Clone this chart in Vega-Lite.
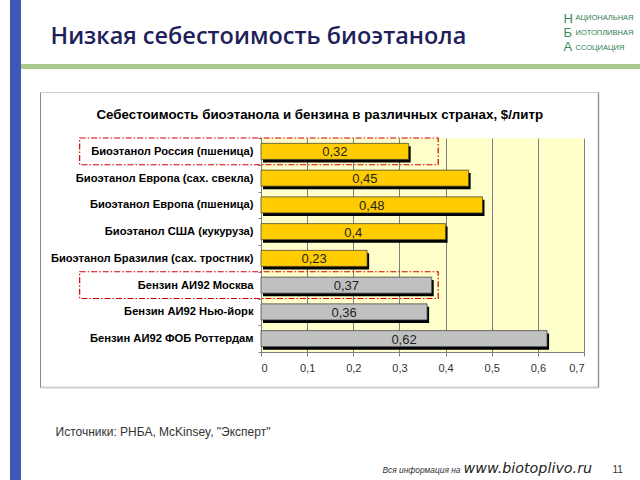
{
  "$schema": "https://vega.github.io/schema/vega-lite/v6.json",
  "background": "white",
  "padding": {"left": 10, "top": 0, "right": 0, "bottom": 0},
  "config": {
    "view": {"stroke": null},
    "font": "Liberation Sans",
    "locale": {"number": {"decimal": ",", "thousands": " ", "grouping": [3], "currency": ["", " ₽"]}}
  },
  "spacing": 0,
  "bounds": "flush",
  "hconcat": [
    {
      "width": 11,
      "height": 480,
      "data": {"values": []},
      "mark": "rule",
      "encoding": {},
      "view": {"fill": "#3f58b8", "stroke": null}
    },
    {
      "spacing": 0,
      "bounds": "flush",
      "vconcat": [
        {
          "width": 619,
          "height": 64,
          "data": {"values": []},
          "mark": "rule",
          "encoding": {
            "x": {
              "field": "v",
              "type": "quantitative",
              "scale": {"domain": [0, 1]},
              "axis": {
                "domain": false, "ticks": false, "labels": false, "grid": false,
                "title": "Низкая себестоимость биоэтанола",
                "titleX": 29, "titleY": -21,
                "titleAlign": "left", "titleAnchor": "start", "titleBaseline": "alphabetic",
                "titleFont": "Open Sans", "titleFontSize": 23.5, "titleFontWeight": 600,
                "titleColor": "#1f1f5c"
              }
            }
          }
        },
        {
          "width": 619,
          "height": 5,
          "data": {"values": []},
          "mark": "rule",
          "view": {"fill": "#a9cb8e", "stroke": null},
          "encoding": {
            "x": {
              "field": "v",
              "type": "quantitative",
              "scale": {"domain": [0, 1]},
              "axis": {
                "domain": false, "ticks": false, "labels": false, "grid": false,
                "title": ["АЦИОНАЛЬНАЯ", "ИОТОПЛИВНАЯ", "ССОЦИАЦИЯ"],
                "titleX": 554, "titleY": -49.7,
                "titleAlign": "left", "titleAnchor": "start", "titleBaseline": "alphabetic",
                "titleLineHeight": 15.3,
                "titleFont": "Liberation Sans", "titleFontSize": 7.5, "titleFontWeight": "normal",
                "titleColor": "#2f7d50"
              }
            }
          }
        },
        {
          "width": 619,
          "height": 69,
          "data": {"values": []},
          "mark": "rule",
          "encoding": {
            "x": {
              "field": "v",
              "type": "quantitative",
              "scale": {"domain": [0, 1]},
              "axis": {
                "domain": false, "ticks": false, "labels": false, "grid": false,
                "title": ["Н", "Б", "А"],
                "titleX": 542, "titleY": -116,
                "titleAlign": "left", "titleAnchor": "start", "titleBaseline": "alphabetic",
                "titleLineHeight": 14,
                "titleFont": "Liberation Sans", "titleFontSize": 13, "titleFontWeight": "normal",
                "titleColor": "#3a8a58"
              }
            }
          }
        },
        {
          "spacing": 0,
          "bounds": "flush",
          "hconcat": [
            {
              "width": 240,
              "height": 214,
              "data": {"values": []},
              "mark": "rule",
              "encoding": {}
            },
            {
              "width": 323,
              "height": 214,
              "data": {
                "values": [
                  {"label": "Биоэтанол Россия (пшеница)", "value": 0.32, "kind": "Биоэтанол"},
                  {"label": "Биоэтанол Европа (сах. свекла)", "value": 0.45, "kind": "Биоэтанол"},
                  {"label": "Биоэтанол Европа (пшеница)", "value": 0.48, "kind": "Биоэтанол"},
                  {"label": "Биоэтанол США (кукуруза)", "value": 0.4, "kind": "Биоэтанол"},
                  {"label": "Биоэтанол Бразилия (сах. тростник)", "value": 0.23, "kind": "Биоэтанол"},
                  {"label": "Бензин АИ92 Москва", "value": 0.37, "kind": "Бензин"},
                  {"label": "Бензин АИ92 Нью-йорк", "value": 0.36, "kind": "Бензин"},
                  {"label": "Бензин АИ92 ФОБ Роттердам", "value": 0.62, "kind": "Бензин"}
                ]
              },
              "view": {"fill": "#ffffcc", "stroke": null},
              "encoding": {
                "y": {
                  "field": "label",
                  "type": "nominal",
                  "sort": null,
                  "scale": {"paddingInner": 0, "paddingOuter": 0},
                  "axis": {
                    "tickBand": "extent",
                    "labelFont": "Liberation Sans",
                    "labelFontSize": 11.2,
                    "labelFontWeight": "bold",
                    "labelColor": "#000000",
                    "labelPadding": 5,
                    "labelLimit": 400,
                    "tickSize": 3,
                    "tickColor": "#808080",
                    "domainColor": "#808080",
                    "title": "Себестоимость биоэтанола и бензина в различных странах, $/литр",
                    "titleAngle": 0,
                    "titleX": -165, "titleY": -20,
                    "titleAlign": "left", "titleAnchor": "start", "titleBaseline": "alphabetic",
                    "titleFont": "Liberation Sans", "titleFontSize": 13.3, "titleFontWeight": "bold",
                    "titleColor": "#000000"
                  }
                }
              },
              "layer": [
                {
                  "mark": {"type": "bar", "fill": "#000000", "xOffset": 2, "yOffset": 3, "height": {"band": 0.6}},
                  "encoding": {
                    "x": {
                      "field": "value",
                      "type": "quantitative",
                      "scale": {"domain": [0, 0.7], "nice": false},
                      "axis": {
                        "values": [0, 0.1, 0.2, 0.3, 0.4, 0.5, 0.6, 0.7],
                        "format": "~g",
                        "grid": true,
                        "gridColor": "#808080",
                        "gridWidth": 1,
                        "domainColor": "#808080",
                        "tickColor": "#808080",
                        "tickSize": 4,
                        "labelFont": "Liberation Sans",
                        "labelFontSize": 11,
                        "labelColor": "#333333",
                        "labelPadding": 6,
                        "title": "Источники: РНБА, McKinsey, \"Эксперт\"",
                        "titleX": -206, "titleY": 83,
                        "titleAlign": "left", "titleAnchor": "start", "titleBaseline": "alphabetic",
                        "titleFont": "Liberation Sans", "titleFontSize": 12, "titleFontWeight": "normal",
                        "titleColor": "#333333"
                      }
                    }
                  }
                },
                {
                  "mark": {"type": "bar", "height": {"band": 0.6}, "stroke": "#3a3a3a", "strokeWidth": 0.7},
                  "encoding": {
                    "x": {"field": "value", "type": "quantitative"},
                    "color": {
                      "field": "kind",
                      "type": "nominal",
                      "scale": {"domain": ["Биоэтанол", "Бензин"], "range": ["#ffcc00", "#c0c0c0"]},
                      "legend": null
                    }
                  }
                },
                {
                  "transform": [{"calculate": "datum.value / 2", "as": "mid"}],
                  "mark": {"type": "text", "font": "Liberation Sans Narrow, Liberation Sans", "fontSize": 13, "color": "#222222", "baseline": "middle", "dy": 1},
                  "encoding": {
                    "x": {"field": "mid", "type": "quantitative"},
                    "text": {"field": "value", "type": "quantitative", "format": "~g"}
                  }
                },
                {
                  "transform": [{"filter": {"field": "label", "oneOf": ["Биоэтанол Россия (пшеница)", "Бензин АИ92 Москва"]}}],
                  "mark": {"type": "rect", "fill": null, "stroke": "#d40000", "strokeWidth": 1.2, "strokeDash": [6, 2, 1.5, 2]},
                  "encoding": {
                    "x": {"datum": -0.393, "type": "quantitative"},
                    "x2": {"datum": 0.384}
                  }
                }
              ]
            }
          ]
        },
        {
          "width": 619,
          "height": 342,
          "data": {"values": []},
          "resolve": {
            "scale": {"x": "independent", "y": "independent"},
            "axis": {"x": "independent", "y": "independent"}
          },
          "layer": [
            {
              "mark": "rule",
              "encoding": {
                "x": {
                  "field": "v",
                  "type": "quantitative",
                  "scale": {"domain": [0, 1], "range": [19, 577]},
                  "axis": {
                    "orient": "bottom", "offset": -93,
                    "domain": true, "domainColor": "#cfcfcf", "domainWidth": 2,
                    "ticks": false, "labels": false, "grid": false,
                    "title": "Вся информация на",
                    "titleX": 439, "titleY": 85,
                    "titleAlign": "right", "titleAnchor": "end", "titleBaseline": "alphabetic",
                    "titleFont": "Liberation Sans", "titleFontSize": 8.4, "titleFontStyle": "italic", "titleFontWeight": "normal",
                    "titleColor": "#333333"
                  }
                },
                "y": {
                  "field": "w",
                  "type": "quantitative",
                  "scale": {"domain": [0, 1], "range": [249, -46]},
                  "axis": {
                    "orient": "left", "offset": -19,
                    "domain": true, "domainColor": "#888888", "domainWidth": 1,
                    "ticks": false, "labels": false, "grid": false,
                    "title": "11",
                    "titleAngle": 0,
                    "titleX": 572, "titleY": 334,
                    "titleAlign": "left", "titleAnchor": "start", "titleBaseline": "alphabetic",
                    "titleFont": "Liberation Sans", "titleFontSize": 10, "titleFontWeight": "normal",
                    "titleColor": "#333333"
                  }
                }
              }
            },
            {
              "mark": "rule",
              "encoding": {
                "x": {
                  "field": "v2",
                  "type": "quantitative",
                  "scale": {"domain": [0, 1], "range": [19, 577]},
                  "axis": {
                    "orient": "top", "offset": 46,
                    "domain": true, "domainColor": "#cccccc", "domainWidth": 1,
                    "ticks": false, "labels": false, "grid": false,
                    "title": "www.biotoplivo.ru",
                    "titleX": 442, "titleY": 380,
                    "titleAlign": "left", "titleAnchor": "start", "titleBaseline": "alphabetic",
                    "titleFont": "DejaVu Sans", "titleFontSize": 14.3, "titleFontStyle": "italic", "titleFontWeight": "normal",
                    "titleColor": "#222222"
                  }
                },
                "y": {
                  "field": "w2",
                  "type": "quantitative",
                  "scale": {"domain": [0, 1], "range": [249, -46]},
                  "axis": {
                    "orient": "right", "offset": -42,
                    "domain": true, "domainColor": "#999999", "domainWidth": 1.5,
                    "ticks": false, "labels": false, "grid": false,
                    "title": null
                  }
                }
              }
            }
          ]
        }
      ]
    }
  ]
}
